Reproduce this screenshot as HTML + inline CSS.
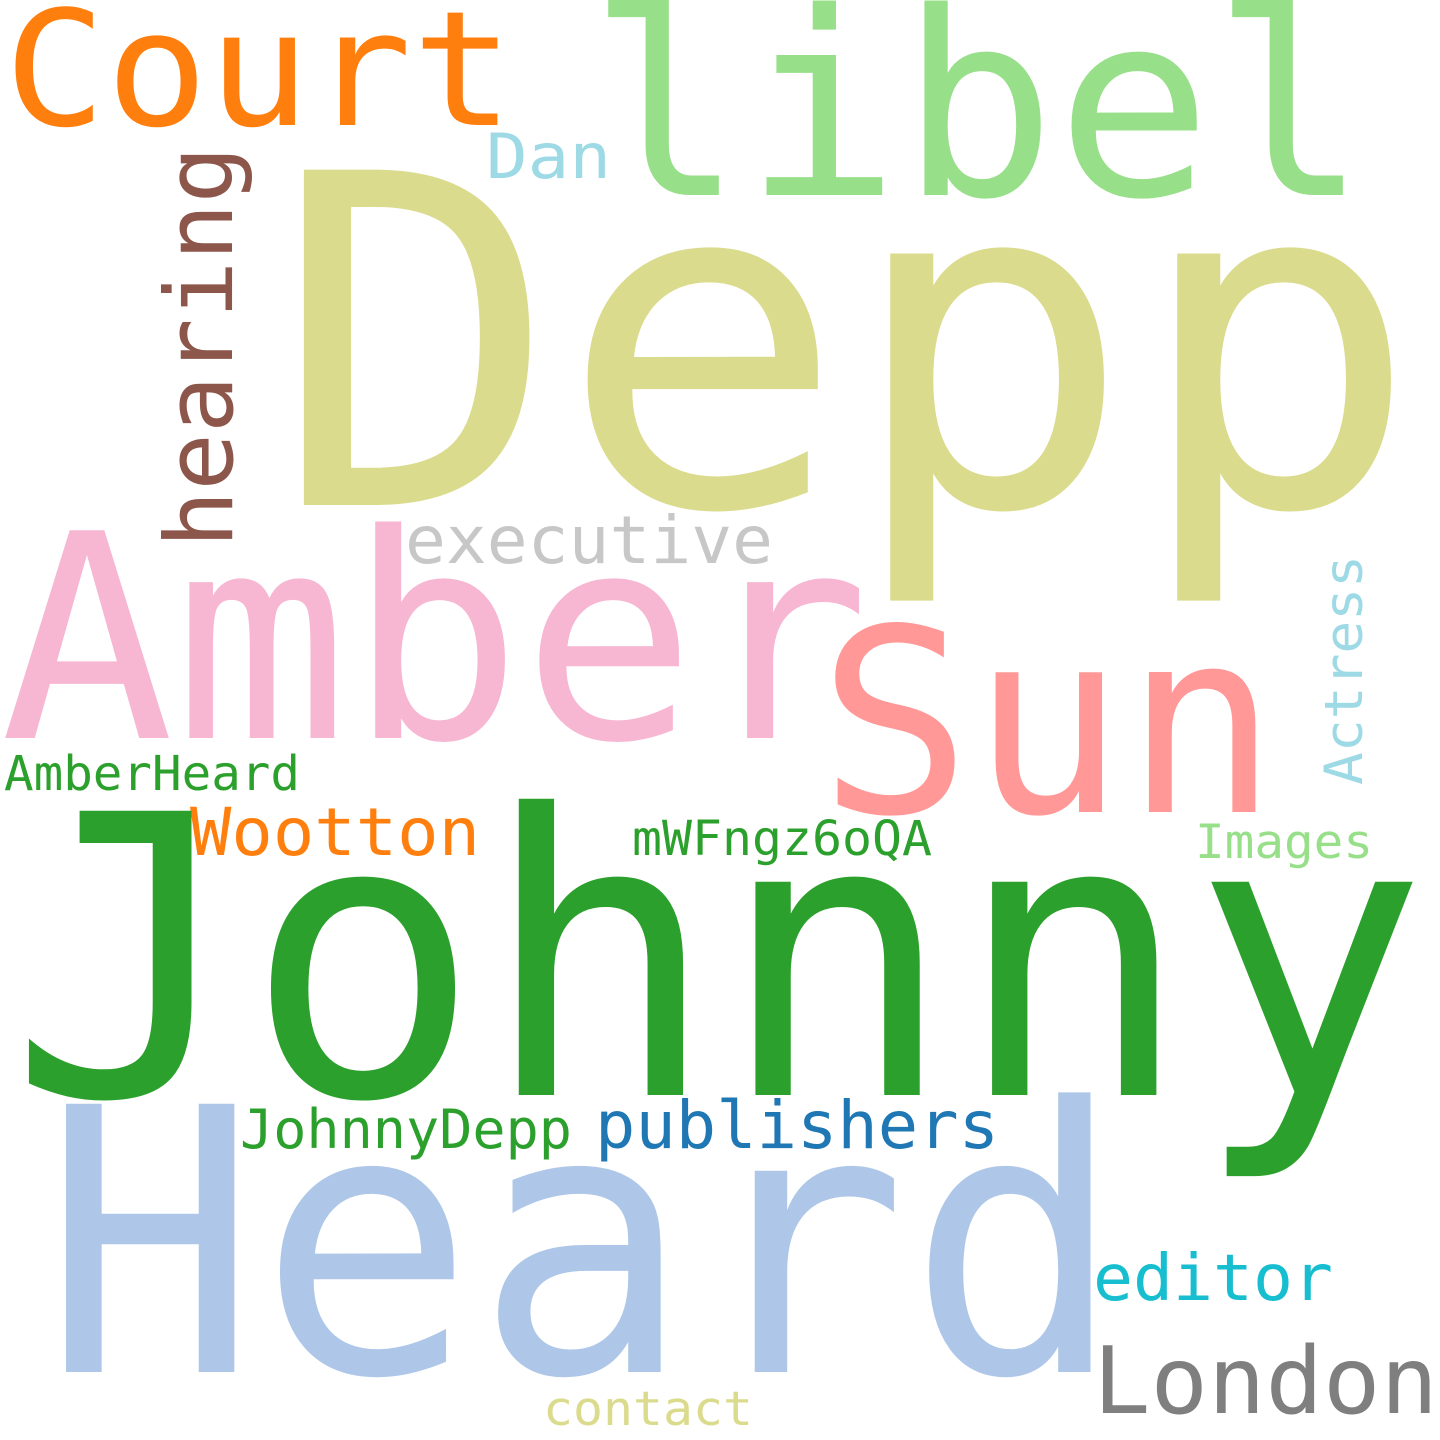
<!DOCTYPE html>
<html>
<head>
<meta charset="utf-8">
<style>
  html,body{margin:0;padding:0;background:#fff;}
  svg{display:block;}
  text{font-family:"DejaVu Sans Mono","Liberation Mono",monospace;}
</style>
</head>
<body>
<svg id="cloud" width="1440" height="1440" viewBox="0 0 1440 1440" xmlns="http://www.w3.org/2000/svg">
  <rect width="1440" height="1440" fill="#ffffff"/>
</svg>
<script>
const words = ["Court","libel","Dan","hearing","Depp","executive","Amber","Sun","Actress","AmberHeard","Wootton","mWFngz6oQA","Images","Johnny","JohnnyDepp","publishers","Heard","editor","London","contact"];
const sizes = [160,256,62,94,460,66,285,256,53,48,66,48,47,390,54,66,368,64,93,47];
const colors = ["#ff7f0e","#98df8a","#9edae5","#8c564b","#dbdb8d","#c7c7c7","#f7b6d2","#ff9896","#9edae5","#2ca02c","#ff7f0e","#2ca02c","#98df8a","#2ca02c","#2ca02c","#1f77b4","#aec7e8","#17becf","#7f7f7f","#dbdb8d"];
const xs = [4,588,486,232,272,405,0,818,1362,4,190,632,1195,8,240,595,42,1093,1093,543];
const ys = [125,195,178,548,505,563,738,812,785,790,855,855,858,1095,1148,1148,1372,1300,1413,1425];
const lens = [510,780,125,402,1148,368,870,460,230,296,290,300,178,1420,332,404,1082,240,345,210];
const rot = [0,0,0,-90,0,0,0,0,-90,0,0,0,0,0,0,0,0,0,0,0];

const svg = document.getElementById('cloud');
const NS = "http://www.w3.org/2000/svg";
words.forEach((w,i)=>{
  const t = document.createElementNS(NS,'text');
  t.textContent = w;
  t.setAttribute('x', xs[i]);
  t.setAttribute('y', ys[i]);
  t.setAttribute('font-size', sizes[i]);
  t.setAttribute('fill', colors[i]);
  t.setAttribute('textLength', lens[i]);
  t.setAttribute('lengthAdjust', 'spacingAndGlyphs');
  if (rot[i]) t.setAttribute('transform', 'rotate(' + rot[i] + ' ' + xs[i] + ' ' + ys[i] + ')');
  
  
  svg.appendChild(t);
});
</script>
</body>
</html>
